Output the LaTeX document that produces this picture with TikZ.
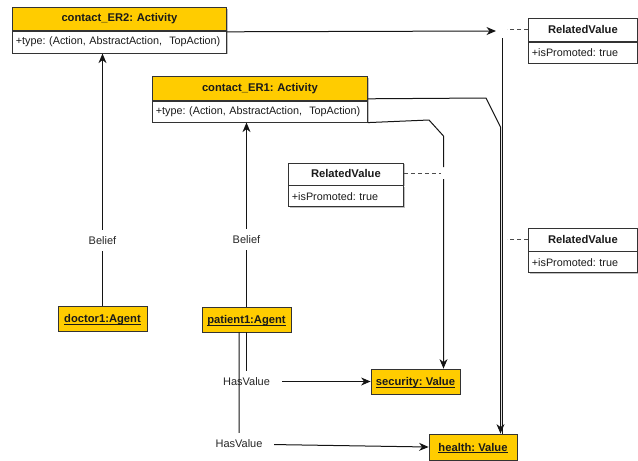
\documentclass[tikz,border=0pt]{standalone}
\usepackage{fontspec}
\setmainfont{Liberation Sans}
\usetikzlibrary{arrows.meta,shadows}
\definecolor{umlgold}{HTML}{FFCC00}
\definecolor{ink}{HTML}{1A1A1A}
\definecolor{wire}{HTML}{141414}
\frenchspacing
% underline sitting just under the baseline
\newcommand{\instname}[1]{\setbox0\hbox{#1}\rlap{\rule[-1.9pt]{\wd0}{0.9pt}}\box0}
\tikzset{
  shd/.style={drop shadow={shadow xshift=1.2pt,shadow yshift=-1.2pt,fill=black,opacity=0.25}},
  hdr/.style={draw=black!80, line width=0.8pt, fill=umlgold, shd, anchor=north west,
    inner xsep=3pt, inner ysep=0pt, align=center, text=ink,
    font=\fontsize{11.2}{13}\selectfont\bfseries},
  attr/.style={draw=black!80, line width=0.8pt, fill=white, shd, anchor=north west,
    inner xsep=3.5pt, inner ysep=0pt, align=left, text=ink,
    font=\fontsize{10.8}{13}\selectfont},
  plainhdr/.style={hdr, fill=white},
  inst/.style={draw=black!80, line width=0.8pt, fill=umlgold, shd, inner sep=0pt,
    text height=8pt, text depth=0pt, text=ink, font=\fontsize{11.2}{13}\selectfont\bfseries},
  conn/.style={draw=wire, line width=1pt},
  arr/.style={-{Stealth[length=9.5pt,width=8pt,inset=3pt]}},
  assoc/.style={draw=black!70, line width=0.9pt, dash pattern=on 4pt off 3pt},
  lbl/.style={fill=white, inner xsep=12pt, inner ysep=6.5pt, text=black!85,
    font=\fontsize{11}{13}\selectfont},
}
\begin{document}
\begin{tikzpicture}[x=1pt,y=-1pt]
\useasboundingbox (0,0) rectangle (638,461);

% activity classes
\node[hdr, text width=208pt, minimum height=23pt] (er2h) at (12,7) {contact\_ER2: Activity};
\node[attr, text width=207pt, minimum height=22pt] (er2a) at (er2h.south west)
  {+type: (Action, AbstractAction,\ \ TopAction)};
\node[hdr, text width=209pt, minimum height=24pt] (er1h) at (152,76) {contact\_ER1: Activity};
\node[attr, text width=208pt, minimum height=21pt] (er1a) at (er1h.south west)
  {+type: (Action, AbstractAction,\ \ TopAction)};

% association classes
\node[plainhdr, text width=103pt, minimum height=23pt] (rvAh) at (528,18) {RelatedValue};
\node[attr, text width=102pt, minimum height=21pt] (rvAa) at (rvAh.south west) {+isPromoted: true};
\node[plainhdr, text width=109pt, minimum height=22pt] (rvBh) at (288,162.5) {RelatedValue};
\node[attr, text width=108pt, minimum height=21pt] (rvBa) at (rvBh.south west) {+isPromoted: true};
\node[plainhdr, text width=103pt, minimum height=23pt] (rvCh) at (528,227.5) {RelatedValue};
\node[attr, text width=102pt, minimum height=21pt] (rvCa) at (rvCh.south west) {+isPromoted: true};

% instances
\node[inst, minimum width=89pt, minimum height=25pt] (doctor) at (102.5,318.5) {\instname{doctor1:Agent}};
\node[inst, minimum width=89pt, minimum height=25pt] (patient) at (246.5,319.5) {\instname{patient1:Agent}};
\node[inst, minimum width=89pt, minimum height=25pt] (security) at (415.5,381.5) {\instname{security: Value}};
\node[inst, minimum width=88pt, minimum height=26pt] (health) at (473,447) {\instname{health: Value}};

% helper points
\coordinate (aEnd) at (496,31);
\coordinate (aDown) at (502,38);
\coordinate (bKnee) at (486,98);
\coordinate (bDown) at (500.5,127);
\coordinate (cKnee) at (429,120);
\coordinate (cDown) at (443.5,136);
\coordinate (cGapTop) at (443.5,167);
\coordinate (cGapBot) at (443.5,179);
\coordinate (hv2) at (239,444);

% value links from the activities
\draw[conn,arr] ([yshift=-1pt]er2a.north east) -- (aEnd);
\draw[conn] (aDown) -- (aDown |- health.north);
\draw[conn,arr] ([yshift=2pt]er1a.north east) -- (bKnee) -- (bDown) -- (bDown |- health.north);
\draw[conn,arr] (er1a.south east) -- (cKnee) -- (cDown) -- (cGapTop)
  (cGapBot) -- (cGapBot |- security.north);

% association class attachments
\draw[assoc] (rvAh.west) -- ++(-21,0);
\draw[assoc] (rvBh.east) -- ++(37,0);
\draw[assoc] (rvCh.west) -- ++(-21,0);

% beliefs
\draw[conn,arr] (doctor.north) -- node[lbl, pos=0.26] {Belief} (doctor.north |- er2a.south);
\draw[conn,arr] (patient.north) -- node[lbl, pos=0.366] {Belief} (patient.north |- er1a.south);

% values held by the patient
\draw[conn,arr] (patient.south) |- node[lbl] {HasValue} (security.west);
\draw[conn,arr] ([xshift=-7.5pt]patient.south) -- (hv2) node[lbl] {HasValue} -- (health.west);
\end{tikzpicture}
\end{document}
